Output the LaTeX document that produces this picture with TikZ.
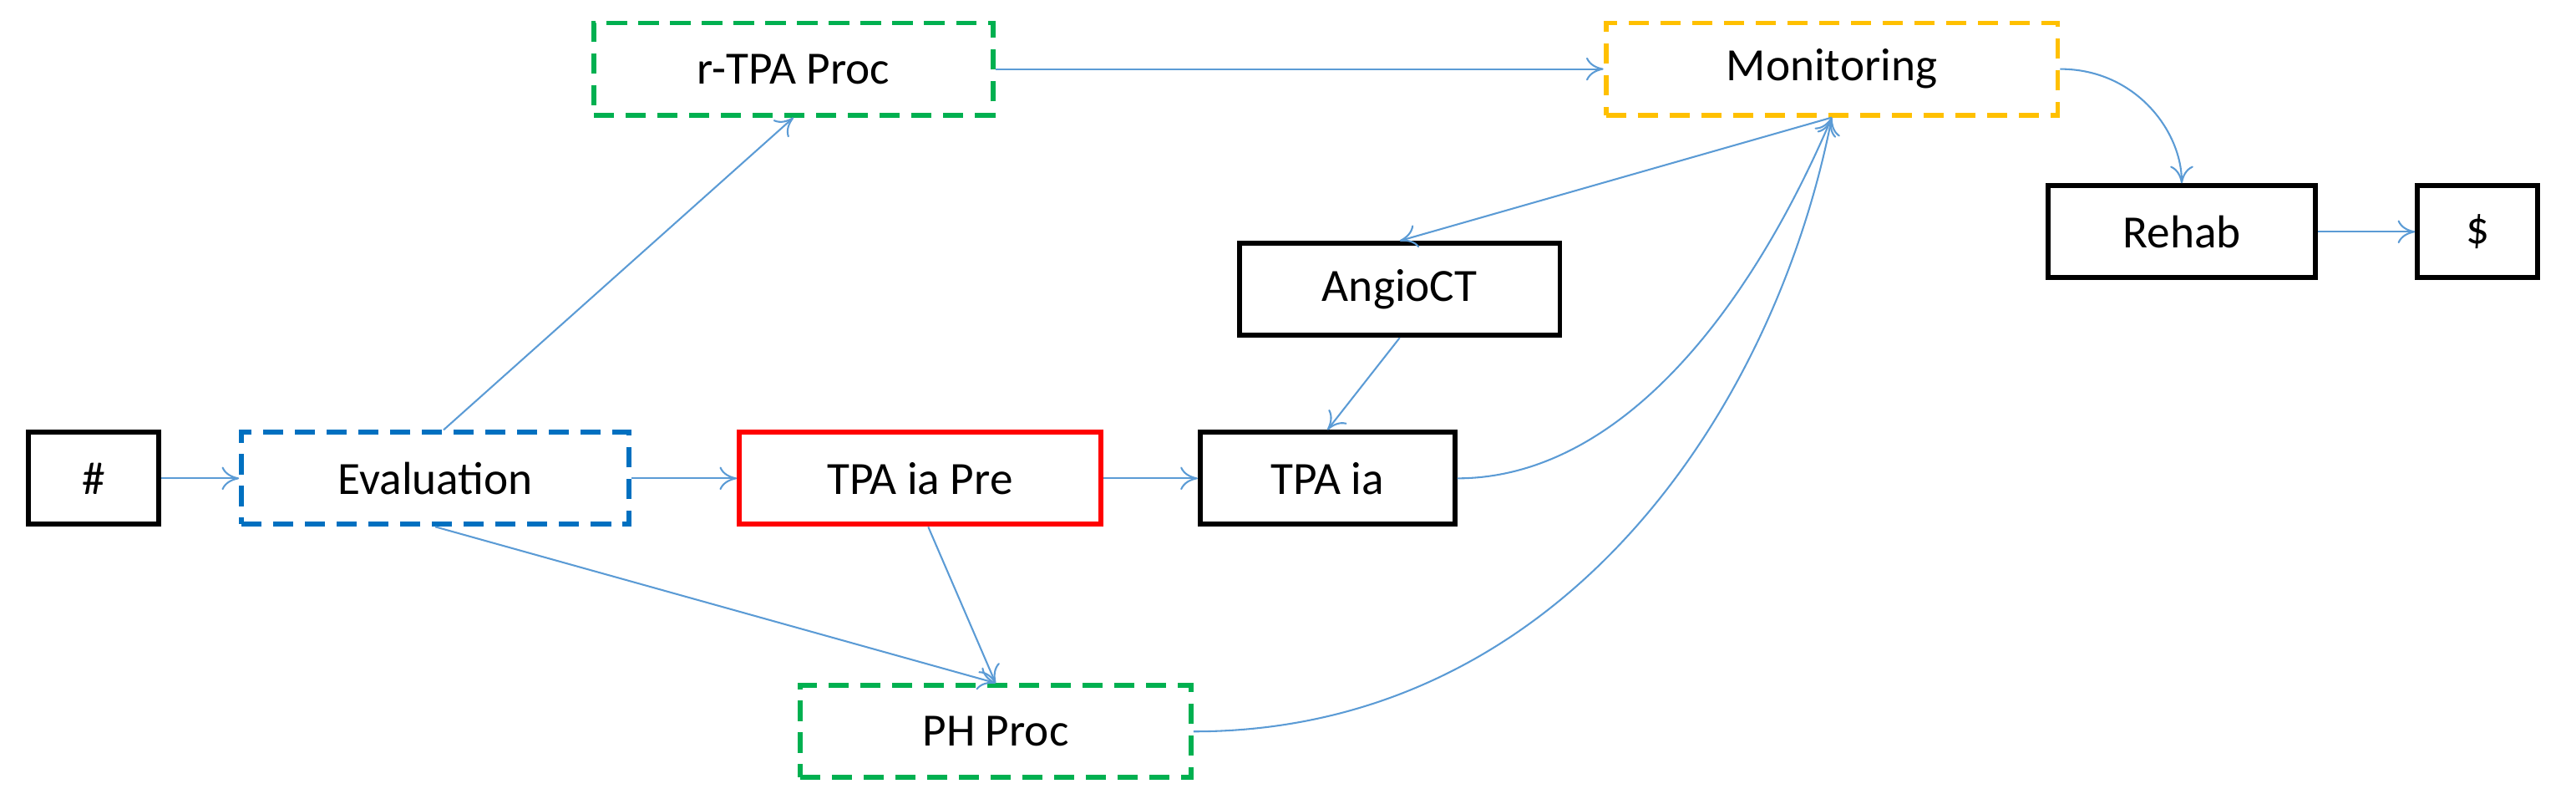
\documentclass[tikz,border=0pt]{standalone}
\usepackage{fontspec}
\setmainfont{Carlito}
\usetikzlibrary{arrows.meta}
\definecolor{ln}{HTML}{5B9BD5}
\definecolor{gb}{HTML}{00B050}
\definecolor{bb}{HTML}{0070C0}
\definecolor{yb}{HTML}{FFC000}
\begin{document}
\begin{tikzpicture}[x=0.02cm,y=-0.02cm,
 box/.style={draw,line width=1.7pt,minimum height=1.12cm,font=\fontsize{16}{18}\selectfont,inner sep=0pt},
 dbox/.style={box,dash pattern=on 7pt off 4pt},
 ar/.style={draw=ln,line width=0.6pt,-{To[length=6pt,width=8pt]}}]
\useasboundingbox (0,0) rectangle (1568,486);
\node[box,minimum width=1.58cm] (h) at (57,291) {\#};
\node[dbox,draw=bb,minimum width=4.72cm] (ev) at (265,291) {Evaluation};
\node[box,draw=red,minimum width=4.4cm] (pre) at (560,291) {TPA ia Pre};
\node[box,minimum width=3.1cm] (tia) at (808,291) {TPA ia};
\node[box,minimum width=3.9cm] (ang) at (852,176) {AngioCT};
\node[dbox,draw=gb,minimum width=4.86cm] (rtpa) at (483,42) {r-TPA Proc};
\node[dbox,draw=yb,minimum width=5.5cm] (mon) at (1115,42) {Monitoring};
\node[box,minimum width=3.26cm] (reh) at (1328,141) {Rehab};
\node[box,minimum width=1.46cm] (dol) at (1508,141) {\$};
\node[dbox,draw=gb,minimum width=4.76cm] (ph) at (606,445) {PH Proc};
\path[ar] (h) -- (ev);
\path[ar] (ev) -- (pre);
\path[ar] (pre) -- (tia);
\path[ar] ([xshift=0.1cm]ev.north) -- (rtpa.south);
\path[ar] (ev.south) -- (ph.north);
\path[ar] ([xshift=0.1cm]pre.south) -- (ph.north);
\path[ar] (rtpa) -- (mon);
\path[ar] (mon.south) -- (ang.north);
\path[ar] (ang.south) -- (tia.north);
\path[ar] (tia.east) .. controls (980,291) and (1060,200) .. (mon.south);
\path[ar] (ph.east) .. controls (950,445) and (1080,250) .. (mon.south);
\path[ar] (mon.east) .. controls (1300,42) and (1328,80) .. (reh.north);
\path[ar] (reh) -- (dol);
\end{tikzpicture}
\end{document}
